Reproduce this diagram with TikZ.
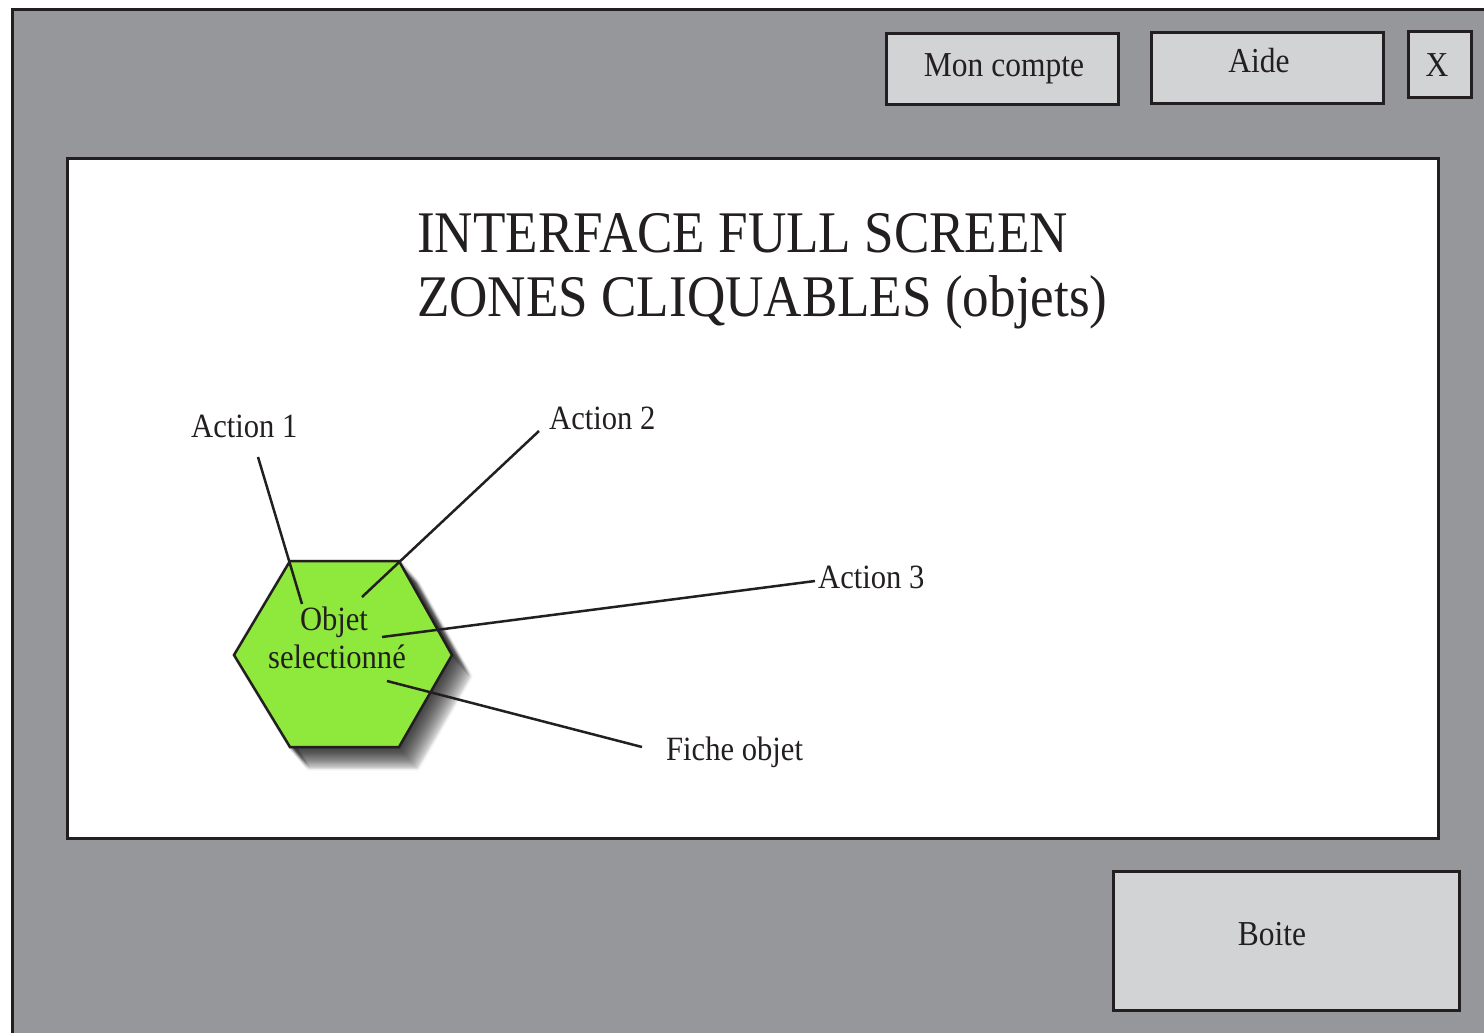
\documentclass[tikz,border=0pt]{standalone}
\usepackage{fontspec}
\setmainfont{Liberation Serif}[FakeStretch=0.9]
\definecolor{screengray}{HTML}{96979B}
\definecolor{btngray}{HTML}{D2D3D5}
\definecolor{edgec}{HTML}{231F20}
\definecolor{objgreen}{HTML}{8FE83C}
\begin{document}
\begin{tikzpicture}[x=1pt,y=-1pt,
  btnbox/.style={draw=edgec, line width=3pt, fill=btngray, inner sep=0pt},
  btntext/.style={text=edgec, inner sep=0pt, anchor=base, font=\fontsize{35}{42}\selectfont},
  lbl/.style={text=edgec, inner sep=0pt, anchor=base west, font=\fontsize{34}{40}\selectfont},
  ttl/.style={text=edgec, inner sep=0pt, anchor=base west, font=\fontsize{59}{70}\selectfont},
  conn/.style={draw=edgec, line width=2.5pt}]
\useasboundingbox (0,0) rectangle (1484,1033);
\clip (0,0) rectangle (1484,1033);
\fill[white] (0,0) rectangle (1484,1033);
% screen
\draw[line width=3pt, draw=edgec, fill=screengray] (12,10) rectangle (1520,1070);
% top buttons
\node[btnbox, minimum width=232pt, minimum height=70pt] (compte) at (1002,69) {};
\node[btntext] (comptetext) at (1004,77) {Mon compte};
\node[btnbox, minimum width=232pt, minimum height=70pt] (aide) at (1267,68) {};
\node[btntext] (aidetext) at (1259,73) {Aide};
\node[btnbox, minimum width=63pt, minimum height=66pt] (close) at (1439.5,65) {};
\node[btntext] (closetext) at (1437,77) {X};
% bottom button
\node[btnbox, minimum width=346pt, minimum height=139pt] (boite) at (1286,940.5) {};
\node[btntext] (boitetext) at (1272,945) {Boite};
% main panel
\draw[line width=3pt, draw=edgec, fill=white] (67,158) rectangle (1438,838);
\node[ttl] (title1) at (417,252) {INTERFACE FULL SCREEN};
\node[ttl] (title2) at (417,316) {ZONES CLIQUABLES (objets)};
% hexagon shadow (soft, bottom-right)
\foreach \i in {0,...,19}{
  \begin{scope}[shift={(\i,1.15*\i)}]
    \fill[black, opacity=0.06, draw=black, draw opacity=0.03, line width=4pt, line join=round]
      (290,561) -- (399,561) -- (452,655) -- (399,747) -- (290,747) -- (234,655) -- cycle;
  \end{scope}
}
% hexagon
\coordinate (h1) at (290,561);
\coordinate (h2) at (399,561);
\coordinate (h3) at (452,655);
\coordinate (h4) at (399,747);
\coordinate (h5) at (290,747);
\coordinate (h6) at (234,655);
\draw[line width=2.5pt, draw=edgec, fill=objgreen, line join=miter]
  (h1) -- (h2) -- (h3) -- (h4) -- (h5) -- (h6) -- cycle;
\node[text=edgec, inner sep=0pt, anchor=base, font=\fontsize{34}{40}\selectfont] (obj1) at (334,630) {Objet};
\node[text=edgec, inner sep=0pt, anchor=base, font=\fontsize{34}{40}\selectfont] (obj2) at (337,668) {selectionné};
% labels
\node[lbl] (act1) at (191,437) {Action 1};
\node[lbl] (act2) at (549,429) {Action 2};
\node[lbl] (act3) at (818,588) {Action 3};
\node[lbl] (fiche) at (666,760) {Fiche objet};
% connector ends
\coordinate (a1) at (258,457);
\coordinate (b1) at (302,604);
\coordinate (a2) at (539,431);
\coordinate (b2) at (362,597);
\coordinate (a3) at (815,581);
\coordinate (b3) at (382,637);
\coordinate (a4) at (642,747);
\coordinate (b4) at (387,681);
\draw[conn] (a1) -- (b1);
\draw[conn] (a2) -- (b2);
\draw[conn] (a3) -- (b3);
\draw[conn] (a4) -- (b4);
\end{tikzpicture}
\end{document}
